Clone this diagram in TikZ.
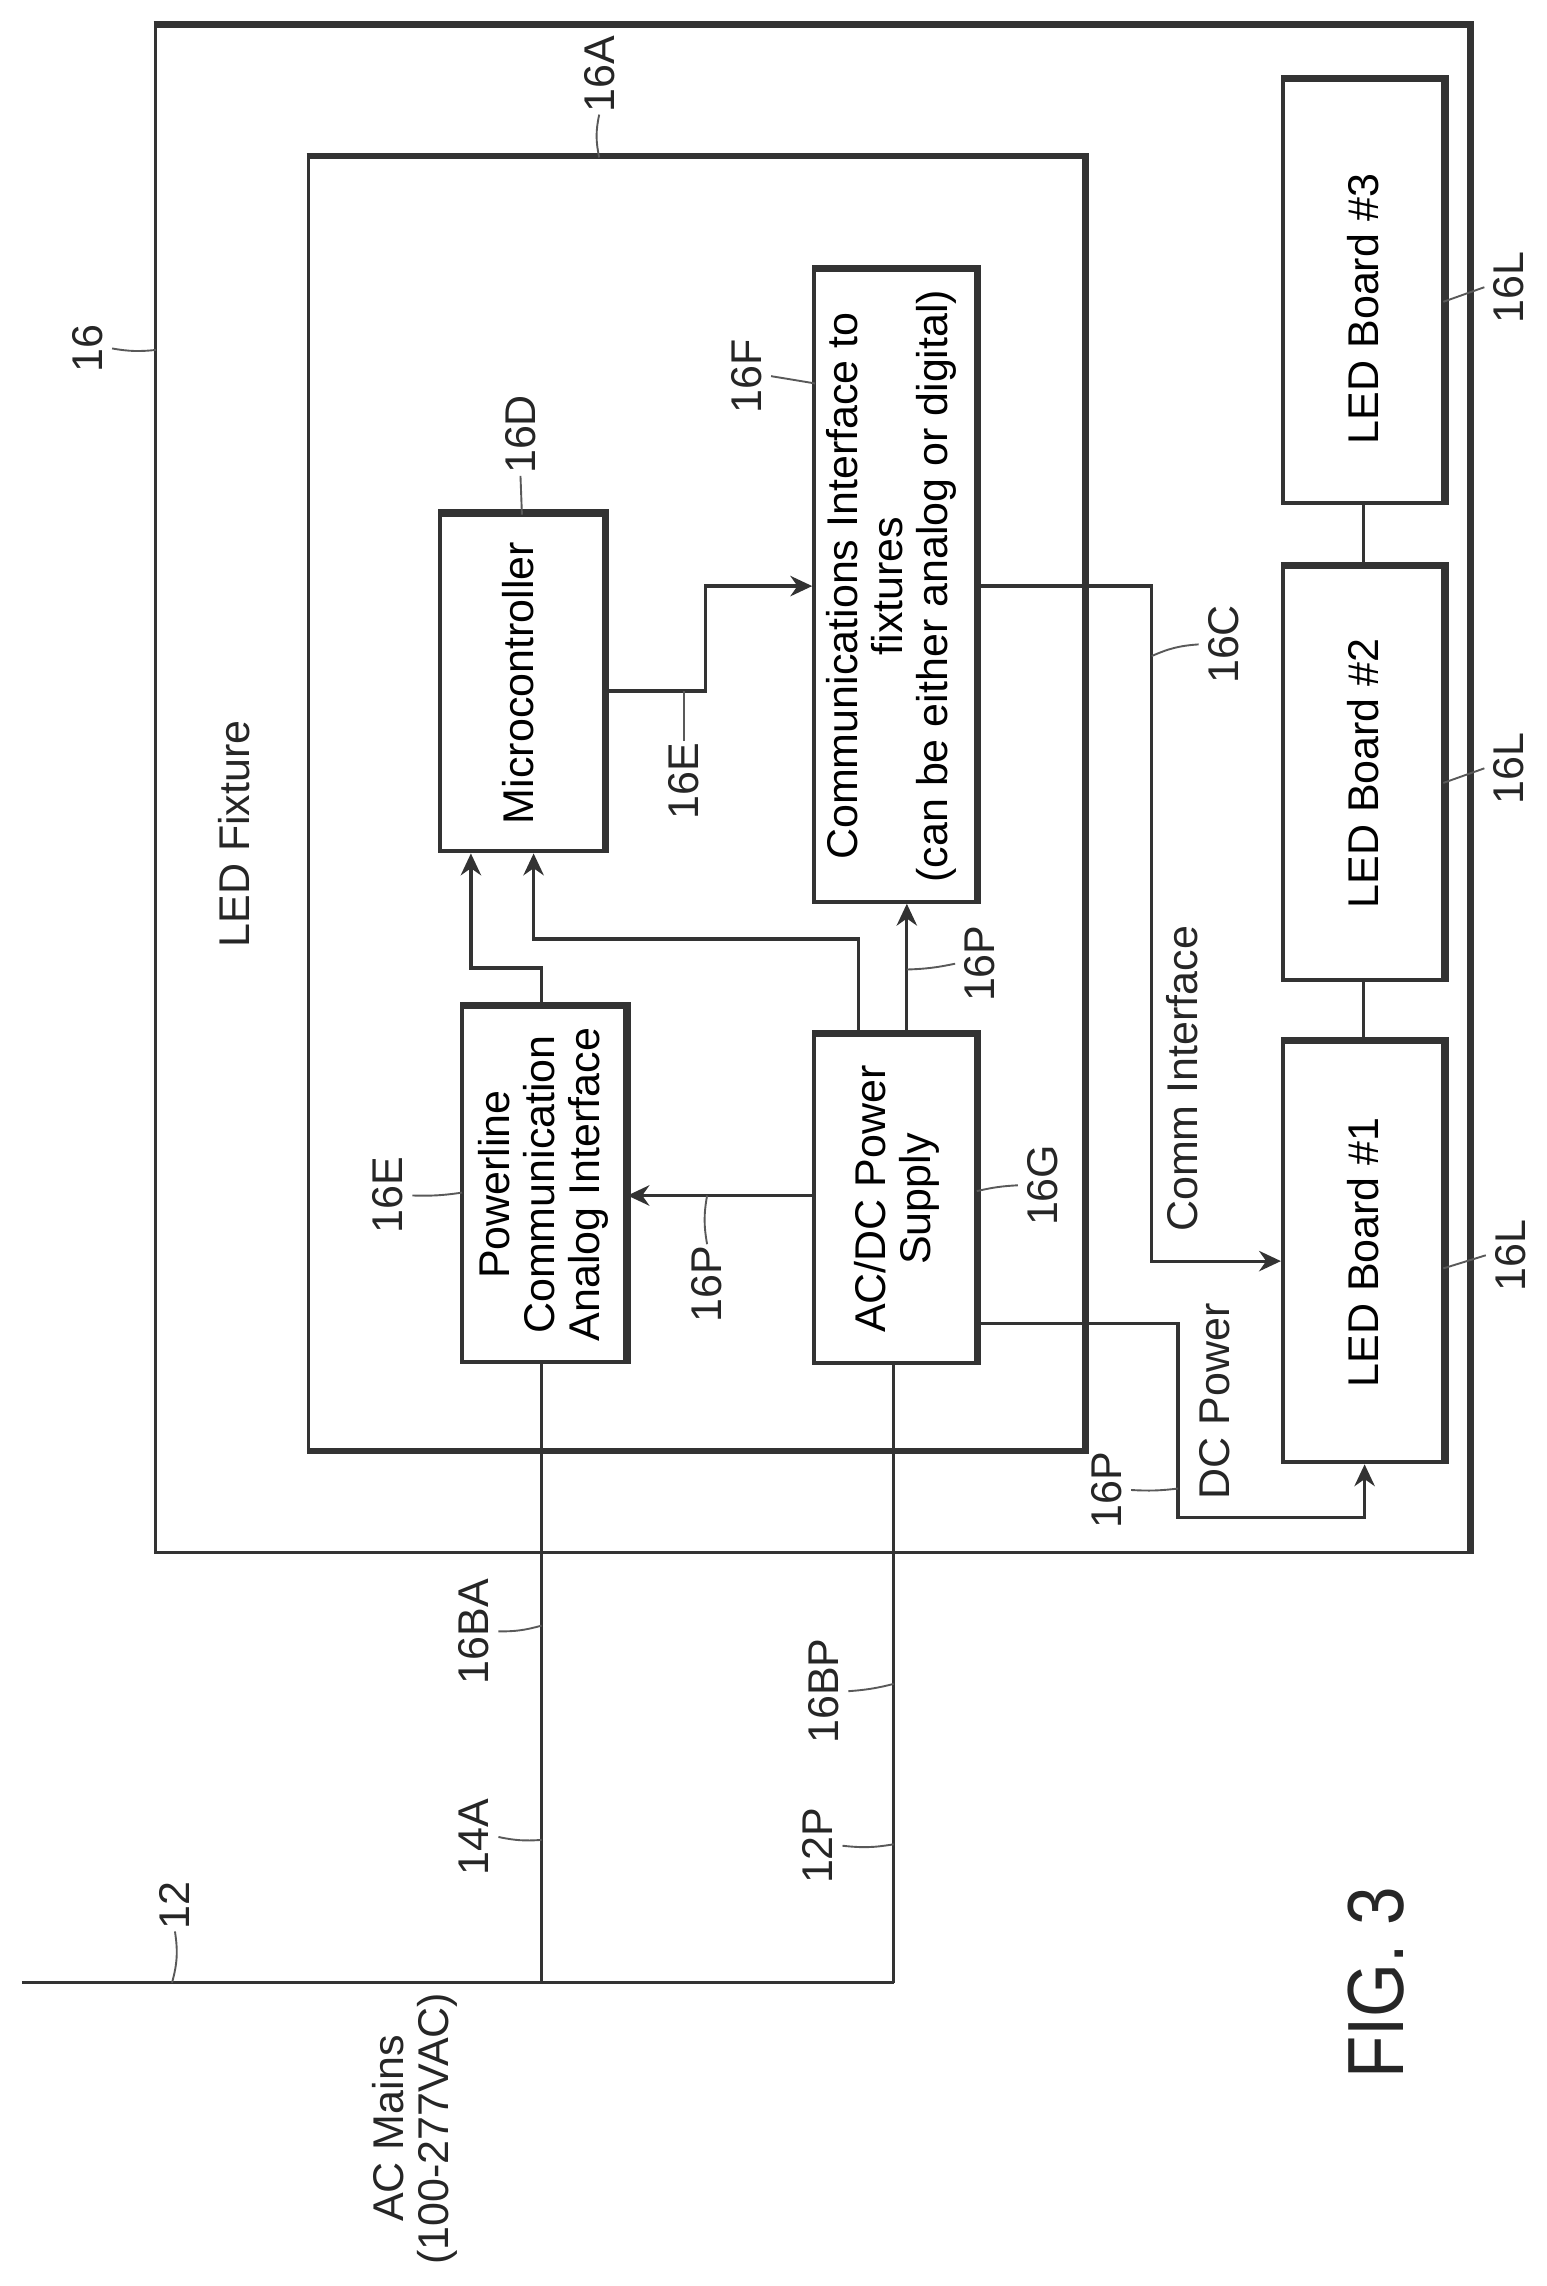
\documentclass[tikz,border=0pt]{standalone}
\usepackage{fontspec}
\setmainfont{Liberation Sans}
\usetikzlibrary{arrows.meta}

\newcommand{\upt}[2][-4pt]{\rotatebox{90}{\raisebox{#1}[\height][\depth]{\begin{tabular}{@{}c@{}}#2\end{tabular}}}}

\tikzset{
    every picture/.style={line width=0.75pt},
    blockbox/.style={draw=black!80, line width=2.8pt, inner sep=0pt, font=\fontsize{29.5}{31}\selectfont},
    framebox/.style={draw=black!80, line width=2.2pt, inner sep=0pt},
    heavyedge/.style={draw=black!80, line width=4.5pt, line join=miter},
    wire/.style={draw=black!80, line width=2.2pt},
    sigwire/.style={wire, -{Stealth[length=15pt,width=14pt]}},
    leader/.style={draw=black!65, line width=1.3pt},
    reflabel/.style={inner sep=1pt, text=black!85, font=\fontsize{29.5}{31}\selectfont},
}

\begin{document}
\begin{tikzpicture}[x=1pt,y=1pt,yscale=-1]
    \useasboundingbox (0,0) rectangle (1061,1568);

    % Frames
    \node [framebox, minimum width=901pt, minimum height=1047pt] (fixture) at (557,541.5) {};
    \draw [heavyedge] (fixture.north west) -- (fixture.north east) -- (fixture.south east);
    \node [framebox, minimum width=532pt, minimum height=886pt] (board) at (477.5,551) {};
    \draw [heavyedge] (board.north west) -- (board.north east) -- (board.south east) -- (board.south west);

    % Blocks
    \node [blockbox, minimum width=112pt, minimum height=231pt] (micro) at (358,468.5) {\upt[-2pt]{Microcontroller}};
    \node [blockbox, minimum width=111pt, minimum height=433pt] (comm) at (614,402) {\upt[1pt]{Communications Interface to\\fixtures\\(can be either analog or digital)}};
    \node [blockbox, minimum width=112pt, minimum height=243pt] (plc) at (373,812.5) {\upt[-1pt]{Powerline\\Communication\\Analog Interface}};
    \node [blockbox, minimum width=111pt, minimum height=225pt] (psu) at (614,822.5) {\upt[-2.5pt]{AC/DC Power\\Supply}};
    \node [blockbox, minimum width=110pt, minimum height=288pt] (ledA) at (935,859) {\upt{LED Board \#1}};
    \node [blockbox, minimum width=110pt, minimum height=283pt] (ledB) at (935,530.5) {\upt{LED Board \#2}};
    \node [blockbox, minimum width=110pt, minimum height=290pt] (ledC) at (935,200) {\upt{LED Board \#3\hspace*{24pt}}};
    \foreach \blk in {micro,comm,plc,psu,ledA,ledB,ledC}
        \draw [heavyedge] (\blk.north west) -- (\blk.north east) -- (\blk.south east);

    % Bend points
    \coordinate (microbend) at (484,474);
    \coordinate (commin) at (484,402);
    \coordinate (commbend) at (790,402);
    \coordinate (ledin) at (790,865);
    \coordinate (psubend) at (808,908);
    \coordinate (dcbend) at (936,1041);
    \coordinate (plcbend) at (323,664);
    \coordinate (psubendA) at (589,644);
    \coordinate (psubendB) at (366,644);
    \coordinate (psuup) at (622,710);
    \coordinate (psuleft) at (559,820);
    \coordinate (mainsA) at (371.5,1360);
    \coordinate (mainsB) at (613,1360);
    \coordinate (mainsend) at (15,1360);

    % Connectors
    \draw [sigwire] (micro.east |- microbend) -- (microbend) -- (commin) -- (comm.west |- commin);
    \draw [sigwire] (comm.east |- commbend) -- (commbend) -- (ledin) -- (ledA.west |- ledin);
    \draw [sigwire] (psu.east |- psubend) -- (psubend) -- (psubend |- dcbend) -- (dcbend) -- (dcbend |- ledA.south);
    \draw [sigwire] (plc.north -| mainsA) -- (mainsA |- plcbend) -- (plcbend) -- (plcbend |- micro.south);
    \draw [sigwire] (psu.north -| psubendA) -- (psubendA) -- (psubendB) -- (psubendB |- micro.south);
    \draw [sigwire] (psuup) -- (psuup |- comm.south);
    \draw [sigwire] (psuleft) -- (psuleft -| plc.east);
    \draw [wire] (plc.south -| mainsA) -- (mainsA);
    \draw [wire] (psu.south -| mainsB) -- (mainsB);
    \draw [wire] (mainsend) -- (mainsB);
    \draw [wire] (ledA.north) -- (ledB.south);
    \draw [wire] (ledB.north) -- (ledC.south);

    % Text
    \node [reflabel] (fixturetext) at (161,572) {\upt{LED Fixture}};
    \node [reflabel] (commtext) at (811,740) {\upt{Comm Interface}};
    \node [reflabel] (dctext) at (833,961) {\upt{DC Power}};
    \node [reflabel] (mainstext) at (282,1460) {\upt{AC Mains\\(100-277VAC)}};
    \node [reflabel, font=\fontsize{47.5}{50}\selectfont] (figtext) at (944,1360) {\rotatebox{90}{\scalebox{1}[1.15]{FIG. 3}}};

    % Reference labels
    \node [reflabel] (lblfix) at (60,239) {\upt{16}};
    \node [reflabel] (lblboard) at (411,51) {\upt{16A}};
    \node [reflabel] (lblmicro) at (357,298) {\upt{16D}};
    \node [reflabel] (lblcomm) at (512,258) {\upt{16F}};
    \node [reflabel] (lblsig) at (469,536) {\upt{16E}};
    \node [reflabel] (lblfeed) at (672,661) {\upt{16P}};
    \node [reflabel] (lblout) at (839,442) {\upt{16C}};
    \node [reflabel] (lblplc) at (266,820) {\upt{16E}};
    \node [reflabel] (lblmid) at (485,881) {\upt{16P}};
    \node [reflabel] (lblpsu) at (715,813) {\upt{16G}};
    \node [reflabel] (lbldc) at (759,1022) {\upt{16P}};
    \node [reflabel] (lblledC) at (1035,197) {\upt{16L}};
    \node [reflabel] (lblledB) at (1035,527) {\upt{16L}};
    \node [reflabel] (lblledA) at (1036,861) {\upt{16L}};
    \node [reflabel] (lblba) at (325,1119) {\upt{16BA}};
    \node [reflabel] (lblbp) at (565,1160) {\upt{16BP}};
    \node [reflabel] (lbla) at (325,1260) {\upt{14A}};
    \node [reflabel] (lblp) at (561,1266) {\upt{12P}};
    \node [reflabel] (lblmains) at (120,1307) {\upt{12}};

    % Leader ends
    \coordinate (endfix) at (107,240);
    \coordinate (endboard) at (411,108);
    \coordinate (endmicro) at (358,353);
    \coordinate (endcomm) at (559,263);
    \coordinate (endsig) at (469,474);
    \coordinate (endfeed) at (622,665);
    \coordinate (endout) at (790,450);
    \coordinate (endplc) at (317,818);
    \coordinate (endmid) at (485,820);
    \coordinate (endpsu) at (670,817);
    \coordinate (enddc) at (808,1021);
    \coordinate (endledC) at (990,207);
    \coordinate (endledB) at (990,537);
    \coordinate (endledA) at (990,870);
    \coordinate (endba) at (371.5,1115);
    \coordinate (endbp) at (613,1155);
    \coordinate (enda) at (371.5,1262);
    \coordinate (endp) at (613,1265);
    \coordinate (endmains) at (118,1360);

    % Leaders
    \draw [leader] (lblfix.east) to [bend left=8] (endfix);
    \draw [leader] (lblboard.south) to [bend left=12] (endboard);
    \draw [leader] (lblmicro.south) -- (endmicro);
    \draw [leader] (lblcomm.east) -- (endcomm);
    \draw [leader] (lblsig.north) -- (endsig);
    \draw [leader] (lblfeed.west) to [bend right=5] (endfeed);
    \draw [leader] (lblout.west) to [bend left=10] (endout);
    \draw [leader] (lblplc.east) to [bend left=5] (endplc);
    \draw [leader] (lblmid.north) to [bend right=10] (endmid);
    \draw [leader] (lblpsu.west) to [bend left=5] (endpsu);
    \draw [leader] (lbldc.east) to [bend left=5] (enddc);
    \draw [leader] (lblledC.west) -- (endledC);
    \draw [leader] (lblledB.west) -- (endledB);
    \draw [leader] (lblledA.west) -- (endledA);
    \draw [leader] (lblba.east) to [bend left=8] (endba);
    \draw [leader] (lblbp.east) to [bend left=5] (endbp);
    \draw [leader] (lbla.east) to [bend left=8] (enda);
    \draw [leader] (lblp.east) to [bend left=8] (endp);
    \draw [leader] (lblmains.south) to [bend right=12] (endmains);

\end{tikzpicture}
\end{document}
